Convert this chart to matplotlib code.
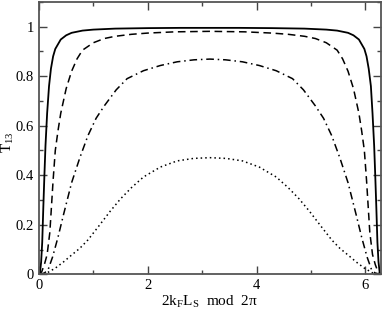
import matplotlib
matplotlib.use("Agg")
import matplotlib.pyplot as plt
from matplotlib.ticker import MultipleLocator

plt.rcParams['font.family'] = ['Liberation Serif', 'DejaVu Serif']
plt.rcParams['mathtext.fontset'] = 'custom'
plt.rcParams['mathtext.rm'] = 'Liberation Serif'
plt.rcParams['mathtext.it'] = 'Liberation Serif'

# ---- data ----
solid_x = [0.0, 0.02, 0.04, 0.06, 0.08, 0.10, 0.12, 0.15, 0.185, 0.22, 0.26, 0.30, 0.40, 0.50, 0.60, 0.80, 1.00, 1.40, 2.00, 2.60, 3.1416,
           3.68, 4.28, 4.88, 5.28, 5.48, 5.68, 5.78, 5.88, 5.98, 6.02, 6.06, 6.10, 6.13, 6.16, 6.18, 6.20, 6.22, 6.24, 6.26, 6.283]
solid_y = [0.0, 0.01, 0.05, 0.13, 0.27, 0.40, 0.52, 0.65, 0.76, 0.83, 0.88, 0.91, 0.948, 0.965, 0.975, 0.984, 0.988, 0.992, 0.994, 0.995, 0.995,
           0.995, 0.994, 0.992, 0.988, 0.984, 0.975, 0.965, 0.948, 0.91, 0.88, 0.83, 0.76, 0.65, 0.52, 0.40, 0.27, 0.13, 0.05, 0.01, 0.0]

dashed_x = [0.0, 0.05, 0.10, 0.15, 0.20, 0.26, 0.30, 0.35, 0.40, 0.50, 0.60, 0.70, 0.80, 1.00, 1.20, 1.40, 1.70, 2.00, 2.50, 3.1416,
            3.78, 4.28, 4.58, 4.88, 5.08, 5.28, 5.48, 5.58, 5.68, 5.78, 5.88, 5.93, 5.98, 6.02, 6.08, 6.13, 6.18, 6.23, 6.283]
dashed_y = [0.0, 0.01, 0.04, 0.08, 0.17, 0.38, 0.50, 0.58, 0.65, 0.75, 0.82, 0.87, 0.905, 0.935, 0.952, 0.961, 0.969, 0.974, 0.979, 0.981,
            0.979, 0.974, 0.969, 0.961, 0.952, 0.935, 0.905, 0.87, 0.82, 0.75, 0.65, 0.58, 0.50, 0.38, 0.17, 0.08, 0.04, 0.01, 0.0]

dashdot_x = [0.0, 0.10, 0.17, 0.25, 0.35, 0.45, 0.60, 0.75, 0.90, 1.05, 1.20, 1.42, 1.62, 1.92, 2.23, 2.54, 2.85, 3.1416,
             3.43, 3.74, 4.05, 4.36, 4.66, 4.86, 5.08, 5.23, 5.38, 5.53, 5.68, 5.83, 5.93, 6.03, 6.11, 6.18, 6.283]
dashdot_y = [0.0, 0.005, 0.02, 0.07, 0.15, 0.24, 0.37, 0.47, 0.56, 0.63, 0.68, 0.745, 0.79, 0.822, 0.843, 0.858, 0.866, 0.869,
             0.866, 0.858, 0.843, 0.822, 0.79, 0.745, 0.68, 0.63, 0.56, 0.47, 0.37, 0.24, 0.15, 0.07, 0.02, 0.005, 0.0]

dotted_x = [0.0, 0.15, 0.30, 0.45, 0.60, 0.75, 0.90, 1.10, 1.31, 1.50, 1.70, 1.92, 2.23, 2.54, 2.84, 3.1416,
            3.44, 3.74, 4.05, 4.36, 4.58, 4.78, 4.97, 5.18, 5.38, 5.53, 5.68, 5.83, 5.98, 6.13, 6.283]
dotted_y = [0.0, 0.006, 0.025, 0.05, 0.078, 0.105, 0.139, 0.195, 0.255, 0.305, 0.35, 0.393, 0.433, 0.458, 0.468, 0.471,
            0.468, 0.458, 0.433, 0.393, 0.35, 0.305, 0.255, 0.195, 0.139, 0.105, 0.078, 0.05, 0.025, 0.006, 0.0]

x_ticks = [0, 2, 4, 6]
y_ticks = [0, 0.2, 0.4, 0.6, 0.8, 1.0]
y_tick_labels = ["0", "0.2", "0.4", "0.6", "0.8", "1"]

fig = plt.figure(figsize=(3.82, 3.10), dpi=100)
ax = fig.add_axes([0.102, 0.115, 0.895, 0.879])

lw = 1.1
ax.plot(solid_x, solid_y, color='black', lw=1.3, ls='-')
ax.plot(dashed_x, dashed_y, color='black', lw=lw, ls=(0, (5, 3)))
ax.plot(dashdot_x, dashdot_y, color='black', lw=lw, ls=(0, (5, 2.5, 1, 2.5)))
ax.plot(dotted_x, dotted_y, color='black', lw=lw, ls=(0, (1, 2)))

ax.set_xlim(0, 6.2832)
ax.set_ylim(0, 1.1)
ax.set_xticks(x_ticks)
ax.set_xticklabels([str(t) for t in x_ticks])
ax.set_yticks(y_ticks)
ax.set_yticklabels(y_tick_labels)
ax.xaxis.set_minor_locator(MultipleLocator(1))
ax.yaxis.set_minor_locator(MultipleLocator(0.1))
ax.tick_params(which='both', direction='in', top=True, right=True, labelsize=10.5, color='#444444')
ax.tick_params(which='major', length=6, width=1)
ax.tick_params(which='minor', length=3, width=1)
for s in ax.spines.values():
    s.set_linewidth(1.3)
    s.set_color('#555555')

ax.set_xlabel(r'2k$_\mathrm{F}$L$_\mathrm{S}$  mod  2π', fontsize=11, labelpad=1)
ax.set_ylabel(r'T$_{13}$', fontsize=11)
ax.yaxis.set_label_coords(-0.067, 0.486)

fig.savefig('out.png', dpi=100)
